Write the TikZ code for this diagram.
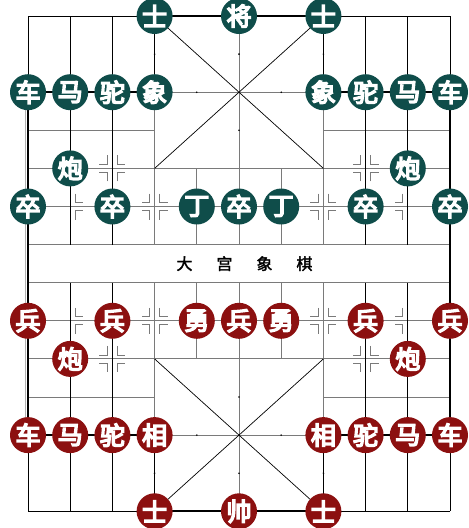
\documentclass[tikz,border=0pt]{standalone}
\usepackage{fontspec}
\newfontfamily\cjk{Noto Sans CJK SC}[FakeBold=2]
\newfontfamily\cjkb{Noto Sans CJK SC}[FakeBold=6]
\definecolor{tealp}{HTML}{0F4D4A}
\definecolor{redp}{HTML}{8C1010}
\definecolor{gridc}{HTML}{7A7A7A}
\tikzset{
  gline/.style={draw=gridc,line width=0.9pt},
  bline/.style={draw=black,line width=0.8pt},
  tline/.style={draw=black,line width=1.8pt},
  rline/.style={draw=gridc,line width=1.4pt},
  diag/.style={draw=black,line width=0.7pt},
  markline/.style={draw=gridc,line width=0.8pt},
  piece/.style={circle,minimum size=36pt,inner sep=0pt,text=white,
    font=\cjkb\fontsize{25}{25}\selectfont},
  tpiece/.style={piece,fill=tealp},
  rpiece/.style={piece,fill=redp},
  rivertext/.style={font=\cjk\fontsize{16}{16}\selectfont,text=black},
  pics/markR/.style={code={
    \draw[markline] (5pt,13pt) -- (5pt,4pt) -- (13pt,4pt);
    \draw[markline] (5pt,-13pt) -- (5pt,-4pt) -- (13pt,-4pt);}},
  pics/markL/.style={code={
    \draw[markline] (-5pt,13pt) -- (-5pt,4pt) -- (-13pt,4pt);
    \draw[markline] (-5pt,-13pt) -- (-5pt,-4pt) -- (-13pt,-4pt);}},
  pics/markF/.style={code={\pic{markR};\pic{markL};}}
}
\begin{document}
\begin{tikzpicture}[x=42.2pt,y=-38.1pt,shift={(28pt,-16pt)}]
\useasboundingbox[fill=white] (-28pt,16pt) rectangle (441pt,-512pt);
% ---------- top half ----------
\draw[gline] (0,4) -- (10,4);
\draw[gline] (0,5) -- (10,5);
\draw[rline] (0,6) -- (10,6);
\draw[gline] (0,3) -- (3,3) (7,3) -- (10,3);
\draw[gline] (3,2) -- (7,2);
\draw[tline] (0,2) -- (3,2) (7,2) -- (10,2);
\draw[bline] (0,0) -- (3,0) (7,0) -- (10,0);
\draw[tline] (3,0) -- (7,0);
\foreach \c in {1,2,8,9} \draw[bline] (\c,0) -- (\c,6);
\foreach \c in {3,7} {\draw[bline] (\c,0) -- (\c,2); \draw[gline] (\c,2) -- (\c,6);}
\draw[gline] (5,0) -- (5,6);
\foreach \c in {4,6} \draw[gline] (\c,4) -- (\c,6);
\draw[diag] (3,0) -- (7,4) (7,0) -- (3,4);
% ---------- bottom half ----------
\draw[rline] (0,7) -- (10,7);
\draw[gline] (0,8) -- (10,8);
\draw[gline] (0,9) -- (10,9);
\draw[gline] (0,10) -- (3,10) (7,10) -- (10,10);
\draw[gline] (3,11) -- (7,11);
\draw[tline] (0,11) -- (3,11) (7,11) -- (10,11);
\draw[bline] (0,13) -- (3,13) (7,13) -- (10,13);
\draw[tline] (3,13) -- (7,13);
\foreach \c in {1,2,8,9} \draw[bline] (\c,7) -- (\c,13);
\foreach \c in {3,7} {\draw[gline] (\c,7) -- (\c,11); \draw[bline] (\c,11) -- (\c,13);}
\draw[gline] (5,7) -- (5,13);
\foreach \c in {4,6} \draw[gline] (\c,7) -- (\c,9);
\draw[diag] (3,9) -- (7,13) (7,9) -- (3,13);
% ---------- borders ----------
\draw[bline] (0,0) -- (0,2) (10,0) -- (10,2) (0,11) -- (0,13) (10,11) -- (10,13);
\draw[tline] (0,2) -- (0,11) (10,2) -- (10,11);
\draw[draw=gridc!60,line width=0.8pt] ([xshift=-3pt]0,2) -- ([xshift=-3pt]0,11);
% ---------- palace ticks ----------
\foreach \p in {(5,1),(5,3),(4,2),(6,2),(3,1),(7,1),(5,10),(5,12),(4,11),(6,11),(3,12),(7,12)}
  \fill[black] \p circle (0.9pt);
% ---------- position marks ----------
\pic at (2,4) {markF}; \pic at (3,5) {markF}; \pic at (1,5) {markR};
\pic at (8,4) {markF}; \pic at (7,5) {markF}; \pic at (9,5) {markL};
\pic at (1,8) {markR}; \pic at (3,8) {markF}; \pic at (2,9) {markF};
\pic at (9,8) {markL}; \pic at (7,8) {markF}; \pic at (8,9) {markF};
% ---------- river text ----------
\node[rivertext] (river) at (5.13,6.5) {大\hspace{24pt}宫\hspace{24pt}象\hspace{24pt}棋};
% ---------- top (teal) pieces ----------
\node[tpiece] (ts1) at (3,0) {士};
\node[tpiece] (tk)  at (5,0) {将};
\node[tpiece] (ts2) at (7,0) {士};
\node[tpiece] (tr1) at (0,2) {车};
\node[tpiece] (th1) at (1,2) {马};
\node[tpiece] (tc1) at (2,2) {驼};
\node[tpiece] (te1) at (3,2) {象};
\node[tpiece] (te2) at (7,2) {象};
\node[tpiece] (tc2) at (8,2) {驼};
\node[tpiece] (th2) at (9,2) {马};
\node[tpiece] (tr2) at (10,2) {车};
\node[tpiece] (tp1) at (1,4) {炮};
\node[tpiece] (tp2) at (9,4) {炮};
\node[tpiece] (tz1) at (0,5) {卒};
\node[tpiece] (tz2) at (2,5) {卒};
\node[tpiece] (td1) at (4,5) {丁};
\node[tpiece] (tz3) at (5,5) {卒};
\node[tpiece] (td2) at (6,5) {丁};
\node[tpiece] (tz4) at (8,5) {卒};
\node[tpiece] (tz5) at (10,5) {卒};
% ---------- bottom (red) pieces ----------
\node[rpiece] (rz1) at (0,8) {兵};
\node[rpiece] (rz2) at (2,8) {兵};
\node[rpiece] (ry1) at (4,8) {勇};
\node[rpiece] (rz3) at (5,8) {兵};
\node[rpiece] (ry2) at (6,8) {勇};
\node[rpiece] (rz4) at (8,8) {兵};
\node[rpiece] (rz5) at (10,8) {兵};
\node[rpiece] (rp1) at (1,9) {炮};
\node[rpiece] (rp2) at (9,9) {炮};
\node[rpiece] (rr1) at (0,11) {车};
\node[rpiece] (rh1) at (1,11) {马};
\node[rpiece] (rc1) at (2,11) {驼};
\node[rpiece] (re1) at (3,11) {相};
\node[rpiece] (re2) at (7,11) {相};
\node[rpiece] (rc2) at (8,11) {驼};
\node[rpiece] (rh2) at (9,11) {马};
\node[rpiece] (rr2) at (10,11) {车};
\node[rpiece] (rs1) at (3,13) {士};
\node[rpiece] (rk)  at (5,13) {帅};
\node[rpiece] (rs2) at (7,13) {士};
\end{tikzpicture}
\end{document}
